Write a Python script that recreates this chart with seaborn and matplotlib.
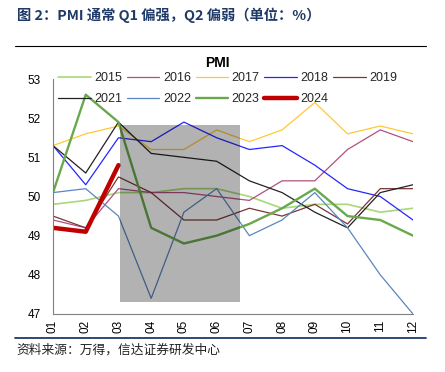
import matplotlib
matplotlib.use("Agg")
import matplotlib.pyplot as plt
import pandas as pd
import seaborn as sns
from matplotlib.patches import Rectangle

months = ["01", "02", "03", "04", "05", "06", "07", "08", "09", "10", "11", "12"]
years = ["2015", "2016", "2017", "2018", "2019", "2021", "2022", "2023", "2024"]
pmi_2015 = [49.8, 49.9, 50.1, 50.1, 50.2, 50.2, 50.0, 49.7, 49.8, 49.8, 49.6, 49.7]
pmi_2016 = [49.4, 49.2, 50.2, 50.1, 50.1, 50.0, 49.9, 50.4, 50.4, 51.2, 51.7, 51.4]
pmi_2017 = [51.3, 51.6, 51.8, 51.2, 51.2, 51.7, 51.4, 51.7, 52.4, 51.6, 51.8, 51.6]
pmi_2018 = [51.3, 50.3, 51.5, 51.4, 51.9, 51.5, 51.2, 51.3, 50.8, 50.2, 50.0, 49.4]
pmi_2019 = [49.5, 49.2, 50.5, 50.1, 49.4, 49.4, 49.7, 49.5, 49.8, 49.3, 50.2, 50.2]
pmi_2021 = [51.3, 50.6, 51.9, 51.1, 51.0, 50.9, 50.4, 50.1, 49.6, 49.2, 50.1, 50.3]
pmi_2022 = [50.1, 50.2, 49.5, 47.4, 49.6, 50.2, 49.0, 49.4, 50.1, 49.2, 48.0, 47.0]
pmi_2023 = [50.1, 52.6, 51.9, 49.2, 48.8, 49.0, 49.3, 49.7, 50.2, 49.5, 49.4, 49.0]
pmi_2024 = [49.2, 49.1, 50.8]
series = [pmi_2015, pmi_2016, pmi_2017, pmi_2018, pmi_2019,
          pmi_2021, pmi_2022, pmi_2023, pmi_2024]

colors = ["#A8D878", "#B0507E", "#FFC933", "#2626FF", "#7A3636",
          "#222222", "#5B86C0", "#6AA84F", "#C00000"]
widths = [1.2, 0.9, 0.9, 0.9, 0.9, 0.9, 0.9, 1.7, 3.2]

# shaded region (Q2 window) in month-index / value units
shade_x = (2.06, 5.7)
shade_y = (47.31, 51.83)

rows = []
for y, vals in zip(years, series):
    for i, v in enumerate(vals):
        rows.append({"year": y, "pos": i, "pmi": v})
df = pd.DataFrame(rows)

sns.set_theme(style="white")
plt.rcParams["font.family"] = ["Liberation Sans", "Noto Sans CJK SC", "DejaVu Sans"]

fig = plt.figure(figsize=(4.45, 3.72), dpi=100)
ax = fig.add_axes([53 / 445, 1 - 314 / 372, 360 / 445, 235 / 372])

handles = {}
for y, c, w in zip(years, colors, widths):
    sns.lineplot(data=df[df["year"] == y], x="pos", y="pmi", color=c,
                 linewidth=w, ax=ax, label=y, legend=False, zorder=2)
    handles[y] = ax.lines[-1]

ax.add_patch(Rectangle((shade_x[0], shade_y[0]), shade_x[1] - shade_x[0],
                       shade_y[1] - shade_y[0], facecolor="black", alpha=0.3,
                       edgecolor="none", zorder=3))

ax.set_xlim(0, 11)
ax.set_ylim(47, 53)
ax.set_xticks(range(12))
ax.set_xticklabels(months, rotation=90, fontsize=8.5)
ax.set_yticks(range(47, 54))
ax.set_yticklabels([str(v) for v in range(47, 54)], fontsize=8.5)
ax.set_xlabel("")
ax.set_ylabel("")
for s in ["top", "right"]:
    ax.spines[s].set_visible(False)
for s in ["left", "bottom"]:
    ax.spines[s].set_color("#808080")
    ax.spines[s].set_linewidth(0.8)
ax.tick_params(axis="both", direction="in", length=3, width=0.8, color="#808080",
               labelcolor="black")
ax.tick_params(axis="y", pad=9)
ax.tick_params(axis="x", pad=4)

order = ["2015", "2021", "2016", "2022", "2017", "2023", "2018", "2024", "2019"]
fig.legend([handles[k] for k in order], order, ncol=5, loc="upper left",
           bbox_to_anchor=(58 / 445, 1 - 72 / 372), frameon=False, fontsize=9,
           handlelength=2.6, handletextpad=0.3, columnspacing=0.36,
           labelspacing=0.75, borderpad=0, borderaxespad=0)

fig.text(217 / 445, 1 - 63 / 372, "PMI", ha="center", va="center",
         fontsize=10, fontweight="bold", color="black")

fig.text(17 / 445, 1 - 15 / 372, "图 2：PMI 通常 Q1 偏强，Q2 偏弱（单位：%）",
         ha="left", va="center", fontsize=10.3, fontweight="bold", color="#1F3A68",
         family=["Noto Sans CJK SC", "DejaVu Sans"])

fig.add_artist(plt.Line2D([15 / 445, 426 / 445], [1 - 46 / 372, 1 - 46 / 372],
                          color="black", linewidth=0.8, transform=fig.transFigure))
fig.add_artist(plt.Line2D([15 / 445, 426 / 445], [1 - 338 / 372, 1 - 338 / 372],
                          color="#1F3A68", linewidth=1.3, transform=fig.transFigure))

fig.text(16 / 445, 1 - 350 / 372, "资料来源：万得，信达证券研发中心",
         ha="left", va="center", fontsize=9.2, style="italic", color="#222222",
         family=["Noto Sans CJK SC", "DejaVu Sans"])

fig.savefig("out.png", dpi=100)
